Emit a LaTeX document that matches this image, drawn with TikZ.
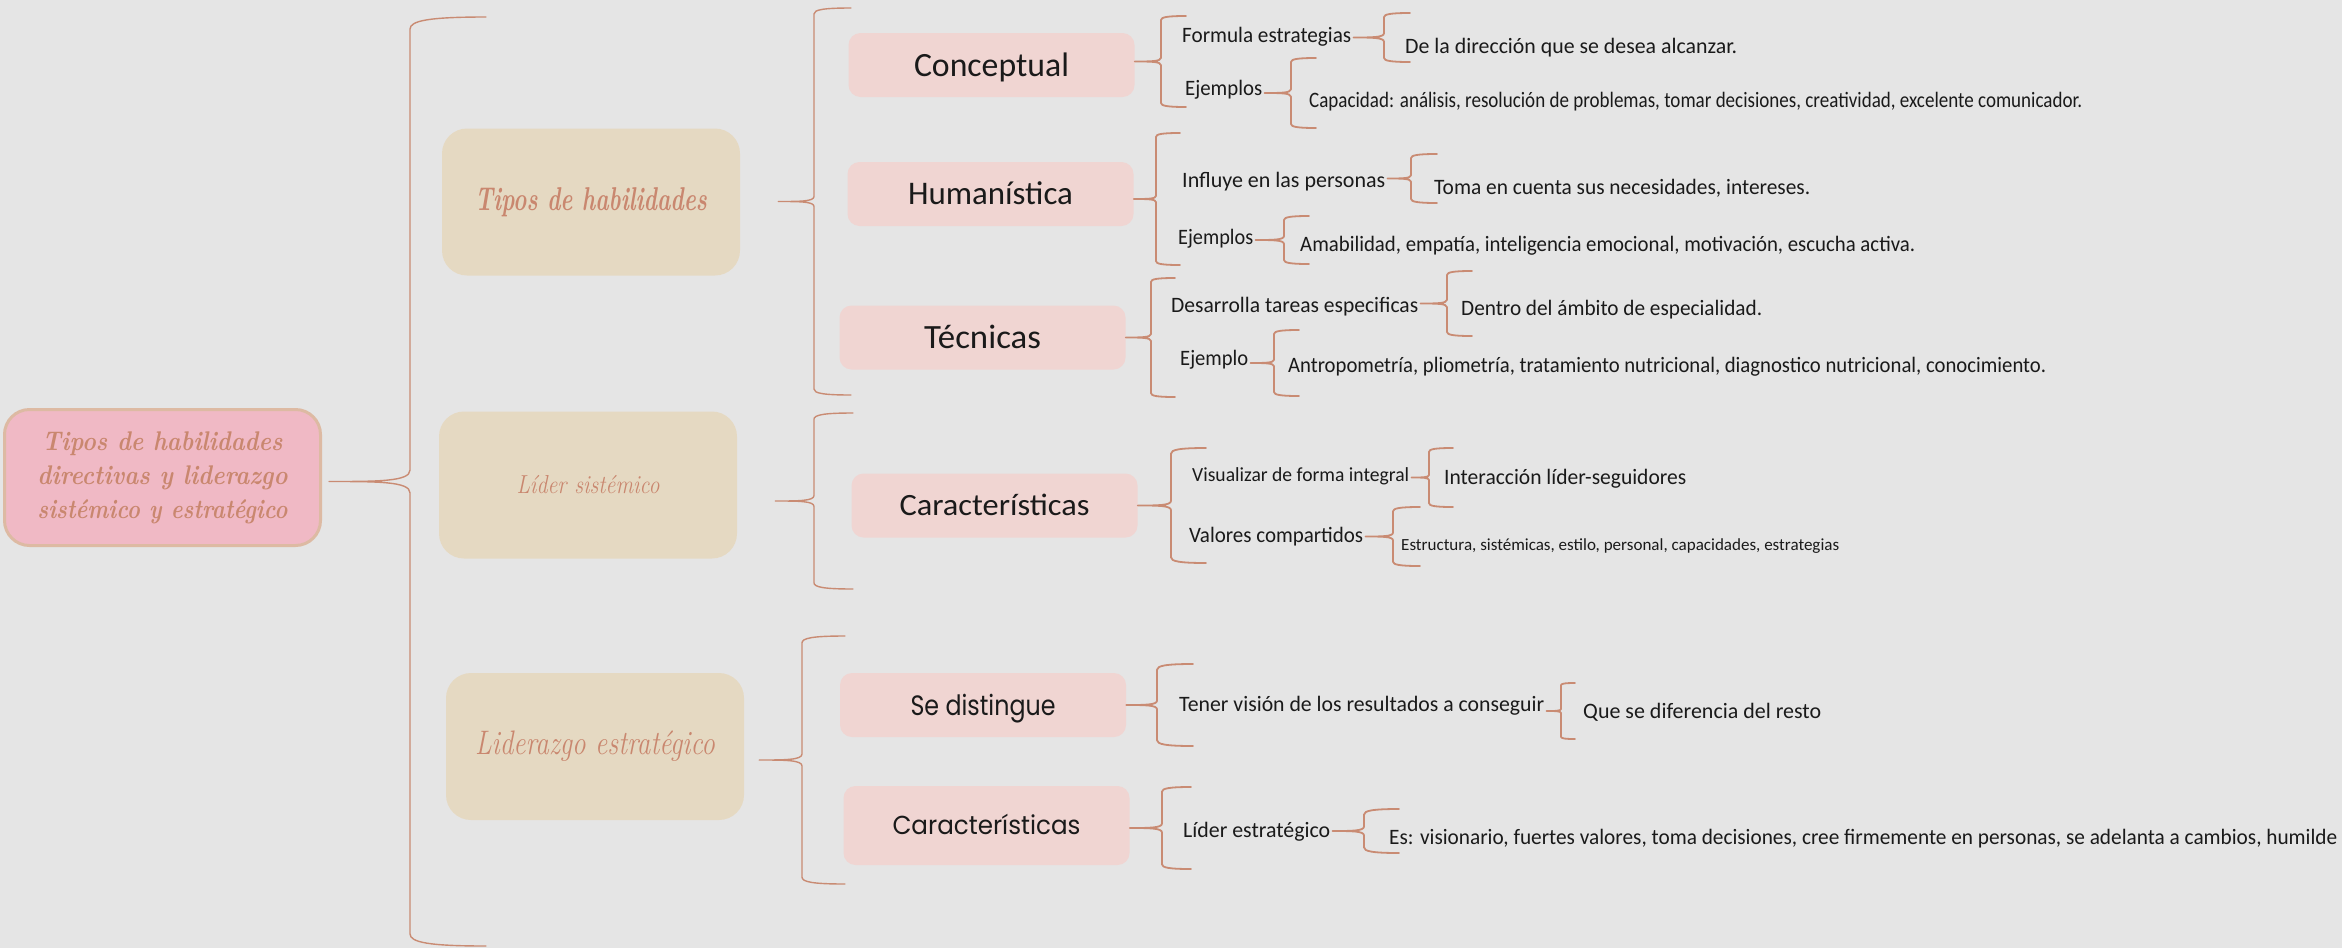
\documentclass[tikz,border=0pt]{standalone}
\usepackage{fontspec}
\usepackage{graphicx}
\newfontfamily\hand{Carlito}
\newfontfamily\geo{Poppins}
\usetikzlibrary{calc}
\definecolor{bgc}{HTML}{E5E5E5}
\definecolor{brc}{HTML}{C98B73}
\definecolor{l2c}{HTML}{F0D5D2}
\definecolor{l1c}{HTML}{E5D9C2}
\definecolor{rootc}{HTML}{F0B9C5}
\definecolor{rootb}{HTML}{DDBAA3}
\definecolor{scr}{HTML}{C9876F}
\definecolor{ink}{HTML}{1A1A1A}
\newcommand\fw[2]{\resizebox{#1pt}{\height}{#2}}
% #1 node anchor, #2 gap, #3 spine x, #4 top y, #5 bottom y, #6 end x, #7 line width
\newcommand\mmbrace[7]{%
 \draw[brl,line width=#7pt] let \p1=([xshift=#2pt]#1),
   \n1={-(#4+#5)/2},
   \n2={min(12,0.14*(#3-\x1/1pt))},
   \n3={0.16*(#6-#3)} in
  ({\x1},{\n1*1pt}) .. controls ({\x1+0.6*(#3pt-\x1)},{\n1*1pt}) and ({#3pt},{\n1*1pt}) .. ({#3pt},{(\n1+\n2)*1pt})
  -- ({#3pt},{(-#4-\n3)*1pt}) .. controls ({#3pt},{(-#4-0.3*\n3)*1pt}) and ({(#3+0.25*(#6-#3))*1pt},{-#4pt}) .. ({#6pt},{-#4pt})
  ({\x1},{\n1*1pt}) .. controls ({\x1+0.6*(#3pt-\x1)},{\n1*1pt}) and ({#3pt},{\n1*1pt}) .. ({#3pt},{(\n1-\n2)*1pt})
  -- ({#3pt},{(-#5+\n3)*1pt}) .. controls ({#3pt},{(-#5+0.3*\n3)*1pt}) and ({(#3+0.25*(#6-#3))*1pt},{-#5pt}) .. ({#6pt},{-#5pt});
}
\begin{document}
\begin{tikzpicture}[x=1pt,y=-1pt,
  brl/.style={draw=brc,line cap=round,line join=round},
  rootbox/.style={fill=rootc,draw=rootb,line width=3pt,rounded corners=25pt,minimum width=316pt,minimum height=136pt,inner sep=0pt,align=center,text=scr,font=\bfseries\itshape\fontsize{27}{34}\selectfont},
  l1box/.style={fill=l1c,rounded corners=25pt,minimum width=298pt,minimum height=147pt,inner sep=0pt,text=scr},
  l2box/.style={fill=l2c,rounded corners=12pt,minimum width=286pt,minimum height=64pt,inner sep=0pt,text=ink,text depth=0pt},
  txt/.style={anchor=west,inner sep=2pt,text=ink,font=\hand\fontsize{22}{26}\selectfont,text height=10pt,text depth=0pt},
  txtsm/.style={font=\hand\fontsize{20}{24}\selectfont,text height=9pt},
  txtxs/.style={font=\hand\fontsize{17}{20}\selectfont,text height=8pt}]
\fill[bgc] (0,0) rectangle (2342,948);
\useasboundingbox (0,0) rectangle (2342,948);

% root
\node[rootbox] (root) at (162.5,477.5) {\fw{240}{Tipos de habilidades}\\ \fw{250}{directivas y liderazgo}\\ \fw{250}{sistémico y estratégico}};

% level 1
\node[l1box,font=\bfseries\itshape\fontsize{33}{38}\selectfont] (tipos) at (591,202) {\fw{232}{Tipos de habilidades}};
\node[l1box,font=\itshape\fontsize{26}{30}\selectfont] (lidsis) at (588,485) {\fw{143}{Líder sistémico}};
\node[l1box,font=\itshape\fontsize{34}{40}\selectfont] (lidest) at (595,746.5) {\fw{240}{Liderazgo estratégico}};

% level 2
\node[l2box,font=\hand\fontsize{34}{40}\selectfont,text height=22pt] (concep) at (991.5,65) {\fw{155}{Conceptual}};
\node[l2box,font=\hand\fontsize{33}{40}\selectfont,text height=21pt] (human) at (990.5,194) {\fw{165}{Humanística}};
\node[l2box,font=\hand\fontsize{34}{40}\selectfont,text height=22pt] (tecn) at (982.5,337.5) {\fw{117}{Técnicas}};
\node[l2box,font=\hand\fontsize{31}{38}\selectfont,text height=20pt] (carS) at (994.5,505.5) {\fw{190}{Características}};
\node[l2box,font=\geo\fontsize{28}{34}\selectfont,text height=20pt] (sedis) at (983,705) {\fw{145}{Se distingue}};
\node[l2box,minimum height=79pt,font=\geo\fontsize{26}{32}\selectfont,text height=18pt] (carE) at (986.5,825.5) {\fw{188}{Características}};

% level 3 and 4 texts
\node[txt] (fo) at (1180,37) {\fw{169}{Formula estrategias}};
\node[txt] (foa) at (1403,48) {\fw{332}{De la dirección que se desea alcanzar.}};
\node[txt] (ej1) at (1183,90) {\fw{77}{Ejemplos}};
\node[txt] (ej1a) at (1307,102) {\fw{773}{Capacidad: análisis, resolución de problemas, tomar decisiones, creatividad, excelente comunicador.}};
\node[txt] (inf) at (1180,182) {\fw{203}{Influye en las personas}};
\node[txt] (infa) at (1432,189) {\fw{376}{Toma en cuenta sus necesidades, intereses.}};
\node[txt] (ej2) at (1176,239) {\fw{75}{Ejemplos}};
\node[txt] (ej2a) at (1298,246) {\fw{615}{Amabilidad, empatía, inteligencia emocional, motivación, escucha activa.}};
\node[txt] (des) at (1169,307) {\fw{247}{Desarrolla tareas especificas}};
\node[txt] (desa) at (1459,310) {\fw{301}{Dentro del ámbito de especialidad.}};
\node[txt] (ej3) at (1178,360) {\fw{68}{Ejemplo}};
\node[txt] (ej3a) at (1286,367) {\fw{758}{Antropometría, pliometría, tratamiento nutricional, diagnostico nutricional, conocimiento.}};
\node[txt,txtsm] (vis) at (1190,477) {\fw{217}{Visualizar de forma integral}};
\node[txt] (visa) at (1442,479) {\fw{242}{Interacción líder-seguidores}};
\node[txt] (val) at (1187,537) {\fw{174}{Valores compartidos}};
\node[txt,txtxs] (vala) at (1399,546) {\fw{438}{Estructura, sistémicas, estilo, personal, capacidades, estrategias}};
\node[txt] (ten) at (1177,706) {\fw{365}{Tener visión de los resultados a conseguir}};
\node[txt] (tena) at (1581,713) {\fw{238}{Que se diferencia del resto}};
\node[txt] (lie) at (1181,832) {\fw{147}{Líder estratégico}};
\node[txt] (liea) at (1387,839) {\fw{948}{Es: visionario, fuertes valores, toma decisiones, cree firmemente en personas, se adelanta a cambios, humilde}};

% braces
\mmbrace{root.east}{7}{410}{17}{946}{486}{1.4}
\mmbrace{tipos.east}{38}{814}{8}{395}{851}{1.4}
\mmbrace{lidsis.east}{38}{814}{413}{589}{853}{1.4}
\mmbrace{lidest.east}{15}{802}{636}{884}{845}{1.4}
\mmbrace{concep.east}{0}{1161}{16}{107}{1186}{1.8}
\mmbrace{human.east}{0}{1156}{133}{265}{1180}{1.8}
\mmbrace{tecn.east}{0}{1151}{278}{397}{1175}{1.8}
\mmbrace{carS.east}{0}{1171}{448}{563}{1206}{1.8}
\mmbrace{sedis.east}{0}{1157}{664}{746}{1193}{1.8}
\mmbrace{carE.east}{0}{1162}{787}{869}{1191}{1.8}
\mmbrace{fo.east}{0}{1384}{13}{62}{1410}{1.8}
\mmbrace{ej1.east}{0}{1291}{58}{128}{1316}{1.8}
\mmbrace{inf.east}{0}{1411}{154}{203}{1437}{1.8}
\mmbrace{ej2.east}{0}{1284}{216}{264}{1309}{1.8}
\mmbrace{des.east}{0}{1447}{271}{336}{1472}{1.8}
\mmbrace{ej3.east}{0}{1274}{330}{396}{1299}{1.8}
\mmbrace{vis.east}{0}{1429}{448}{507}{1453}{1.8}
\mmbrace{val.east}{0}{1393}{507}{566}{1420}{1.8}
\mmbrace{ten.east}{0}{1561}{683}{739}{1575}{1.8}
\mmbrace{lie.east}{0}{1364}{809}{853}{1399}{1.8}
\end{tikzpicture}
\end{document}
